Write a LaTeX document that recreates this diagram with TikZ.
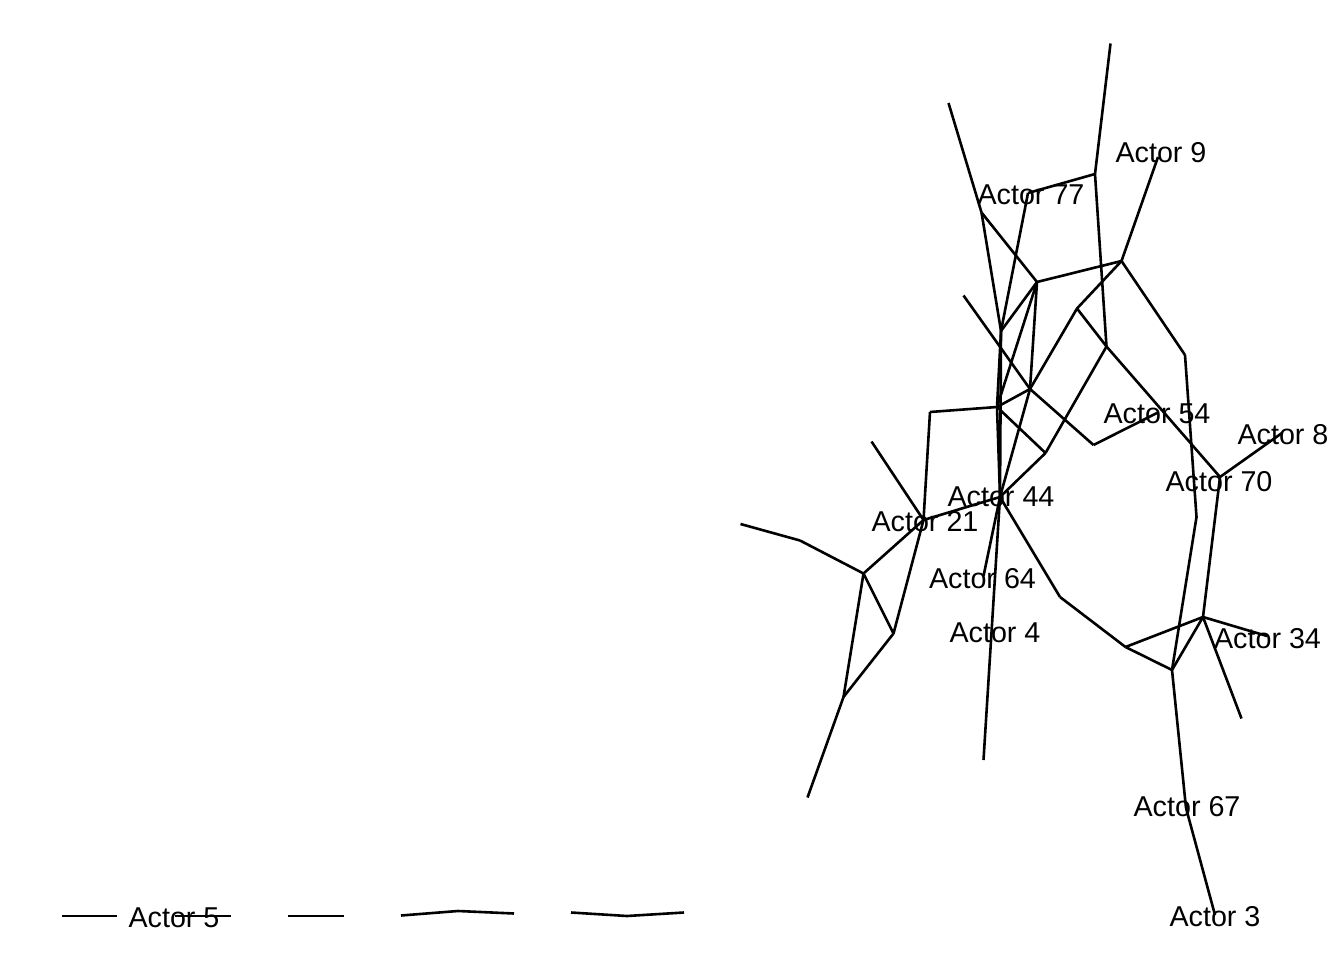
\documentclass[tikz,border=0pt]{standalone}
\usepackage{fontspec}
\setmainfont{Liberation Sans}
\begin{document}
\begin{tikzpicture}[x=1pt,y=-1pt,
  edge/.style={line width=2.6pt,line cap=butt,line join=miter,black},
  lbl/.style={inner sep=0pt,outer sep=0pt,anchor=center,font=\fontsize{28.7}{34}\selectfont}]
\useasboundingbox (0,0) rectangle (1344,960);
% vertices
\coordinate (A) at (1110.5,43.5);
\coordinate (B) at (1095,174);
\coordinate (C) at (1158,157);
\coordinate (D) at (1121.5,261);
\coordinate (E) at (948.5,103);
\coordinate (F) at (981.5,212.5);
\coordinate (G) at (1028,193);
\coordinate (H) at (1037,282);
\coordinate (I) at (1001,331);
\coordinate (S) at (963.5,295.5);
\coordinate (K) at (1030,389);
\coordinate (M) at (1077,308.5);
\coordinate (N) at (1106.5,346.5);
\coordinate (T) at (1185,355);
\coordinate (J) at (997,407);
\coordinate (R) at (930,412);
\coordinate (P) at (1045.5,453);
\coordinate (Q) at (1093.5,445);
\coordinate (W) at (1157,413);
\coordinate (L) at (1000,497);
\coordinate (V) at (1220,477);
\coordinate (X) at (1282,433);
\coordinate (U) at (1196.5,517);
\coordinate (Y) at (1203,617);
\coordinate (Yr) at (1267,636);
\coordinate (Yd) at (1241.5,718.5);
\coordinate (Z) at (1172,670);
\coordinate (AA) at (1125.5,647);
\coordinate (AB) at (1186,808);
\coordinate (A3) at (1215,915);
\coordinate (AC) at (1060,597);
\coordinate (AD) at (983.5,576);
\coordinate (AE) at (983.5,760);
\coordinate (O) at (923.5,520);
\coordinate (AF) at (871.5,441.5);
\coordinate (AG) at (863.5,573.5);
\coordinate (AH) at (893.5,633.5);
\coordinate (AI) at (843.5,697);
\coordinate (AJ) at (800,540.5);
\coordinate (AK) at (740.5,524);
\coordinate (AL) at (807.5,797.5);
% bottom row
\coordinate (b1) at (62,916);
\coordinate (b2) at (117,916);
\coordinate (b3) at (175,916);
\coordinate (b4) at (231,916);
\coordinate (b5) at (288,916);
\coordinate (b6) at (344,916);
\coordinate (b7) at (401,915.5);
\coordinate (b8) at (458,911);
\coordinate (b9) at (514,913.5);
\coordinate (b10) at (571,912.5);
\coordinate (b11) at (627,916);
\coordinate (b12) at (684,912.5);
% edges
\draw[edge] (A) -- (B);
\draw[edge] (B) -- (G);
\draw[edge] (B) -- (N);
\draw[edge] (C) -- (D);
\draw[edge] (D) -- (H);
\draw[edge] (D) -- (M);
\draw[edge] (D) -- (T);
\draw[edge] (E) -- (F);
\draw[edge] (F) -- (H);
\draw[edge] (F) -- (I);
\draw[edge] (G) -- (I);
\draw[edge] (H) -- (I);
\draw[edge] (H) -- (K);
\draw[edge] (H) -- (J);
\draw[edge] (I) -- (J);
\draw[edge] (I) -- (L);
\draw[edge] (S) -- (K);
\draw[edge] (K) -- (M);
\draw[edge] (K) -- (J);
\draw[edge] (K) -- (Q);
\draw[edge] (K) -- (L);
\draw[edge] (M) -- (N);
\draw[edge] (N) -- (V);
\draw[edge] (N) -- (P);
\draw[edge] (T) -- (U);
\draw[edge] (J) -- (R);
\draw[edge] (J) -- (P);
\draw[edge] (J) -- (L);
\draw[edge] (P) -- (L);
\draw[edge] (Q) -- (W);
\draw[edge] (V) -- (X);
\draw[edge] (V) -- (Y);
\draw[edge] (U) -- (Z);
\draw[edge] (Y) -- (Z);
\draw[edge] (Y) -- (AA);
\draw[edge] (Y) -- (Yr);
\draw[edge] (Y) -- (Yd);
\draw[edge] (Z) -- (AA);
\draw[edge] (Z) -- (AB);
\draw[edge] (AB) -- (A3);
\draw[edge] (AA) -- (AC);
\draw[edge] (AC) -- (L);
\draw[edge] (L) -- (O);
\draw[edge] (L) -- (AD);
\draw[edge] (L) -- (AE);
\draw[edge] (R) -- (O);
\draw[edge] (O) -- (AF);
\draw[edge] (O) -- (AG);
\draw[edge] (O) -- (AH);
\draw[edge] (AG) -- (AH);
\draw[edge] (AG) -- (AI);
\draw[edge] (AG) -- (AJ);
\draw[edge] (AJ) -- (AK);
\draw[edge] (AH) -- (AI);
\draw[edge] (AI) -- (AL);
\draw[edge] (b1) -- (b2);
\draw[edge] (b3) -- (b4);
\draw[edge] (b5) -- (b6);
\draw[edge] (b7) -- (b8) -- (b9);
\draw[edge] (b10) -- (b11) -- (b12);
% labels
\node[lbl] (l9) at (1161,153) {Actor 9};
\node[lbl] (l77) at (1031,195) {Actor 77};
\node[lbl] (l54) at (1157,414) {Actor 54};
\node[lbl] (l8) at (1283,435) {Actor 8};
\node[lbl] (l70) at (1219,482) {Actor 70};
\node[lbl] (l44) at (1001,497) {Actor 44};
\node[lbl] (l21) at (925,522) {Actor 21};
\node[lbl] (l64) at (982.5,579) {Actor 64};
\node[lbl] (l4) at (995,632.5) {Actor 4};
\node[lbl] (l34) at (1267.5,638.5) {Actor 34};
\node[lbl] (l67) at (1187,807) {Actor 67};
\node[lbl] (l3) at (1215,917) {Actor 3};
\node[lbl] (l5) at (174,917.5) {Actor 5};
\end{tikzpicture}
\end{document}
